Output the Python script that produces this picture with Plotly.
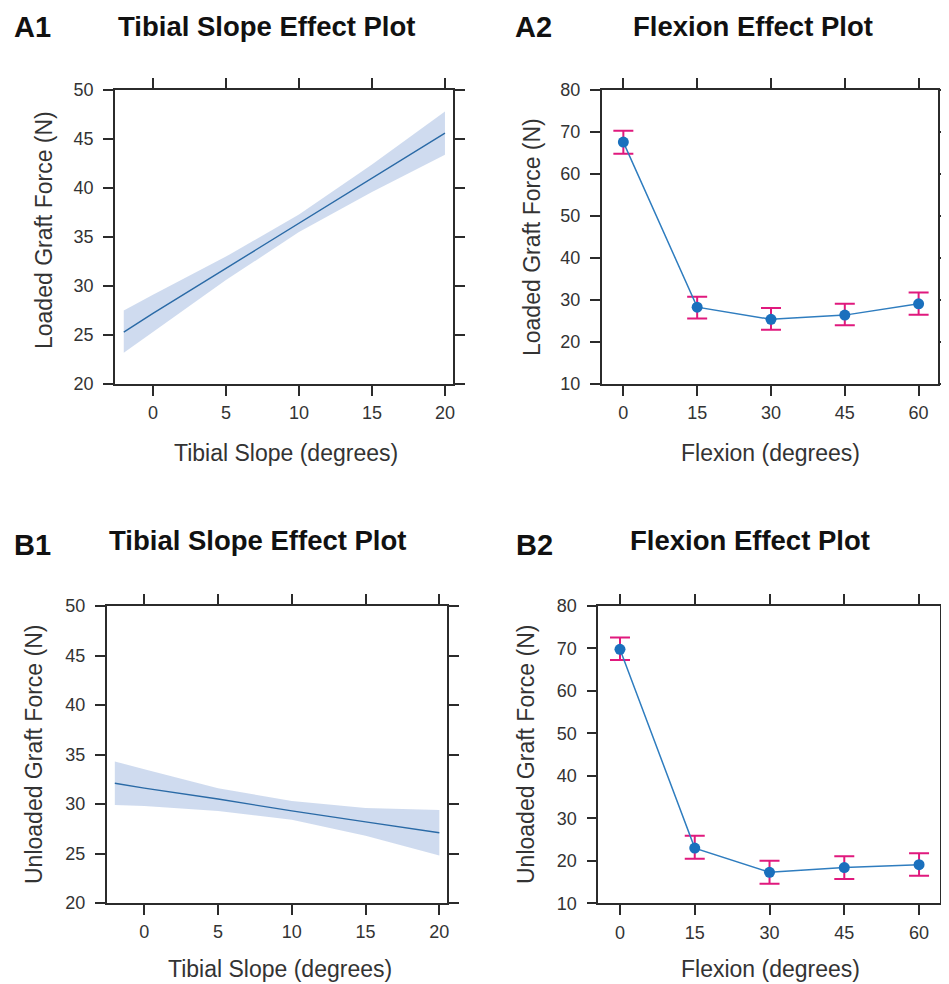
import plotly.graph_objects as go

# ---------------- data ----------------
tibial_x = [-2, 0, 5, 10, 15, 20]
loaded_fit = [25.3, 27.2, 31.8, 36.4, 41.0, 45.6]
loaded_lo = [23.2, 25.3, 30.6, 35.5, 39.6, 43.4]
loaded_hi = [27.5, 29.1, 33.0, 37.3, 42.4, 47.8]

unloaded_fit = [32.1, 31.6, 30.5, 29.3, 28.2, 27.1]
unloaded_lo = [29.9, 29.8, 29.3, 28.4, 26.8, 24.8]
unloaded_hi = [34.3, 33.5, 31.6, 30.3, 29.6, 29.4]

flexion = [0, 15, 30, 45, 60]
loaded_flex = [67.6, 28.3, 25.4, 26.4, 29.1]
loaded_flex_lo = [64.8, 25.6, 22.9, 24.0, 26.5]
loaded_flex_hi = [70.3, 30.8, 28.1, 29.1, 31.8]

unloaded_flex = [69.8, 23.0, 17.3, 18.4, 19.1]
unloaded_flex_lo = [67.3, 20.5, 14.6, 15.7, 16.5]
unloaded_flex_hi = [72.6, 25.9, 20.0, 21.1, 21.8]

tibial_ticks = [0, 5, 10, 15, 20]
flexion_ticks = [0, 15, 30, 45, 60]
force_ticks_tibial = [20, 25, 30, 35, 40, 45, 50]
force_ticks_flex = [10, 20, 30, 40, 50, 60, 70, 80]

# ---------------- style ----------------
PAGE_W, PAGE_H = 949, 984
OFF = 8  # default body margin of the page
W, H = PAGE_W - OFF, PAGE_H - OFF
FONT = "Liberation Sans, Arial, sans-serif"
BAND = "rgba(203,216,238,0.92)"
LINE = "#2a6aa6"
PT = "#1a70bd"
ERR = "#e0197d"
AX = "#2b2b2b"

fig = go.Figure()

def px_x(p):
    return (p - OFF) / W

def px_y(p):
    return 1 - (p - OFF) / H

def band(xs, lo, hi, fit, xa, ya):
    fig.add_trace(go.Scatter(x=xs + xs[::-1], y=hi + lo[::-1], fill="toself",
                             fillcolor=BAND, line=dict(width=0), mode="lines",
                             hoverinfo="skip", showlegend=False, xaxis=xa, yaxis=ya))
    fig.add_trace(go.Scatter(x=xs, y=fit, mode="lines", line=dict(color=LINE, width=1.4),
                             showlegend=False, xaxis=xa, yaxis=ya))

def points(xs, fit, lo, hi, xa, ya):
    fig.add_trace(go.Scatter(
        x=xs, y=fit, mode="lines+markers",
        line=dict(color="#2f7dbf", width=1.5),
        marker=dict(color=PT, size=11),
        error_y=dict(type="data", symmetric=False,
                     array=[h - f for h, f in zip(hi, fit)],
                     arrayminus=[f - l for f, l in zip(fit, lo)],
                     color=ERR, thickness=2, width=10),
        showlegend=False, xaxis=xa, yaxis=ya))

band(tibial_x, loaded_lo, loaded_hi, loaded_fit, "x", "y")
points(flexion, loaded_flex, loaded_flex_lo, loaded_flex_hi, "x2", "y2")
band(tibial_x, unloaded_lo, unloaded_hi, unloaded_fit, "x3", "y3")
points(flexion, unloaded_flex, unloaded_flex_lo, unloaded_flex_hi, "x4", "y4")

def axis_common(standoff):
    return dict(showline=True, linecolor=AX, linewidth=1.6, mirror="ticks",
                ticks="outside", ticklen=10, tickwidth=1.6, tickcolor=AX,
                showgrid=False, zeroline=False, automargin=False,
                tickfont=dict(family=FONT, size=18, color="#333333"),
                ticklabelstandoff=standoff, fixedrange=True)

panels = {
    "1": ((115, 453), (90, 384), [-2.6, 20.55], [20, 50], tibial_ticks, force_ticks_tibial),
    "2": ((601.7, 938.3), (90, 384), [-4.4, 64.0], [10, 80], flexion_ticks, force_ticks_flex),
    "3": ((106.7, 447), (606, 903), [-2.55, 20.52], [20, 50], tibial_ticks, force_ticks_tibial),
    "4": ((598.3, 940), (606, 903.3), [-4.35, 64.2], [10, 80], flexion_ticks, force_ticks_flex),
}

lay = {}
for k, (xd, yd, xr, yr, xt, yt) in panels.items():
    sfx = "" if k == "1" else k
    xa = axis_common(2)
    xa.update(domain=[px_x(xd[0]), px_x(xd[1])], range=xr, tickvals=xt,
              anchor="y" + sfx)
    ya = axis_common(6)
    ya.update(domain=[px_y(yd[1]), px_y(yd[0])], range=yr, tickvals=yt,
              anchor="x" + sfx)
    lay["xaxis" + sfx] = xa
    lay["yaxis" + sfx] = ya

fig.update_layout(**lay)

anns = []
def txt(s, x, y, size, bold=False, angle=0, color="#111111"):
    anns.append(dict(text=("<b>%s</b>" % s) if bold else s, x=px_x(x), y=px_y(y),
                     xref="paper", yref="paper", xanchor="center", yanchor="middle",
                     showarrow=False, textangle=angle,
                     font=dict(family=FONT, size=size, color=color)))

# panel letters and titles
txt("A1", 32, 27, 29, True)
txt("Tibial Slope Effect Plot", 266, 27, 27.5, True)
txt("A2", 533, 27, 29, True)
txt("Flexion Effect Plot", 753, 27, 27.5, True)
txt("B1", 32, 545, 29, True)
txt("Tibial Slope Effect Plot", 258, 540, 27.5, True)
txt("B2", 534, 545, 29, True)
txt("Flexion Effect Plot", 750, 540, 27.5, True)

# axis titles
txt("Tibial Slope (degrees)", 286, 453, 23, color="#333333")
txt("Flexion (degrees)", 770, 453, 23, color="#333333")
txt("Tibial Slope (degrees)", 280, 969, 23, color="#333333")
txt("Flexion (degrees)", 770, 969, 23, color="#333333")
txt("Loaded Graft Force (N)", 44, 230, 23, angle=-90, color="#333333")
txt("Loaded Graft Force (N)", 532, 237, 23, angle=-90, color="#333333")
txt("Unloaded Graft Force (N)", 34, 755, 23, angle=-90, color="#333333")
txt("Unloaded Graft Force (N)", 526, 755, 23, angle=-90, color="#333333")

fig.update_layout(annotations=anns, width=W, height=H,
                  margin=dict(l=0, r=0, t=0, b=0, pad=0),
                  paper_bgcolor="white", plot_bgcolor="white",
                  showlegend=False, font=dict(family=FONT))

fig.write_html("out.html", config={"displayModeBar": False})
